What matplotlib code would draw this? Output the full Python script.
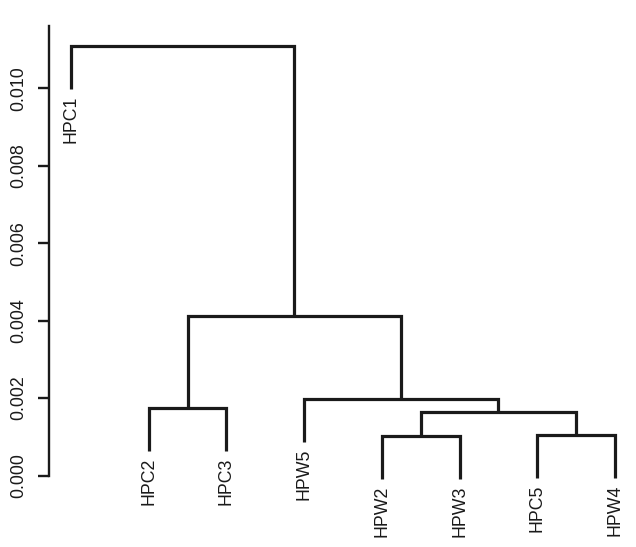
import numpy as np
import matplotlib
matplotlib.use("Agg")
import matplotlib.pyplot as plt

plt.rcParams['font.family'] = ['Liberation Sans', 'DejaVu Sans']

# leaves in plotting order
labels = ['HPC1', 'HPC2', 'HPC3', 'HPW5', 'HPW2', 'HPW3', 'HPC5', 'HPW4']
# R-style merge matrix: negative = leaf (1-based, in plot order), positive = earlier merge row
merge_a = [-5, -7, 1, -2, -4, 4, -1]
merge_b = [-6, -8, 2, -3, 3, 5, 6]
heights = [0.00102, 0.00105, 0.00163, 0.00175, 0.00198, 0.00413, 0.01109]
yticks = [0.000, 0.002, 0.004, 0.006, 0.008, 0.010]

hang = 0.1 * max(heights)
ink = '#1a1a1a'

fig = plt.figure(figsize=(6.36, 5.47), dpi=100)
# axes placed so that the plot matches the reference layout
ax = fig.add_axes([0, (547 - 500) / 547, 1, 480 / 547])
ax.set_xlim(1 - 71 / 77.7, 1 + (636 - 71) / 77.7)
ax.set_ylim((475.5 - 500) / 38720, (475.5 - 20) / 38720)

node_x = {}
node_y = {}


def child_pos(c, parent_h):
    # returns x, y of the bottom end of the leg leading to child c
    if c < 0:
        return c * -1, parent_h - hang
    return node_x[c], node_y[c]


for i, (a, b, h) in enumerate(zip(merge_a, merge_b, heights), start=1):
    xa, ya = child_pos(a, h)
    xb, yb = child_pos(b, h)
    ax.plot([xa, xa, xb, xb], [ya, h, h, yb], color=ink, lw=2.3,
            solid_joinstyle='miter', solid_capstyle='butt')
    node_x[i] = (xa + xb) / 2
    node_y[i] = h
    for c, cx, cy in ((a, xa, ya), (b, xb, yb)):
        if c < 0:
            ax.annotate(labels[-c - 1], (cx, cy), xytext=(0, -5),
                        textcoords='offset points', rotation=90,
                        ha='center', va='top', fontsize=12.8, color=ink)

for s in ['top', 'right', 'bottom']:
    ax.spines[s].set_visible(False)
ax.spines['left'].set_position(('data', 1 - 22 / 77.7))
ax.spines['left'].set_bounds(0, 0.0116)
ax.spines['left'].set_linewidth(1.7)
ax.spines['left'].set_color(ink)
ax.set_xticks([])
ax.set_yticks(yticks)
ax.set_yticklabels(['%.3f' % v for v in yticks], rotation=90, va='center')
ax.tick_params(axis='y', length=8, width=1.7, pad=7.5, labelsize=12.8,
               colors=ink)
ax.patch.set_alpha(0)

fig.savefig('out.png', dpi=100, facecolor='white')
